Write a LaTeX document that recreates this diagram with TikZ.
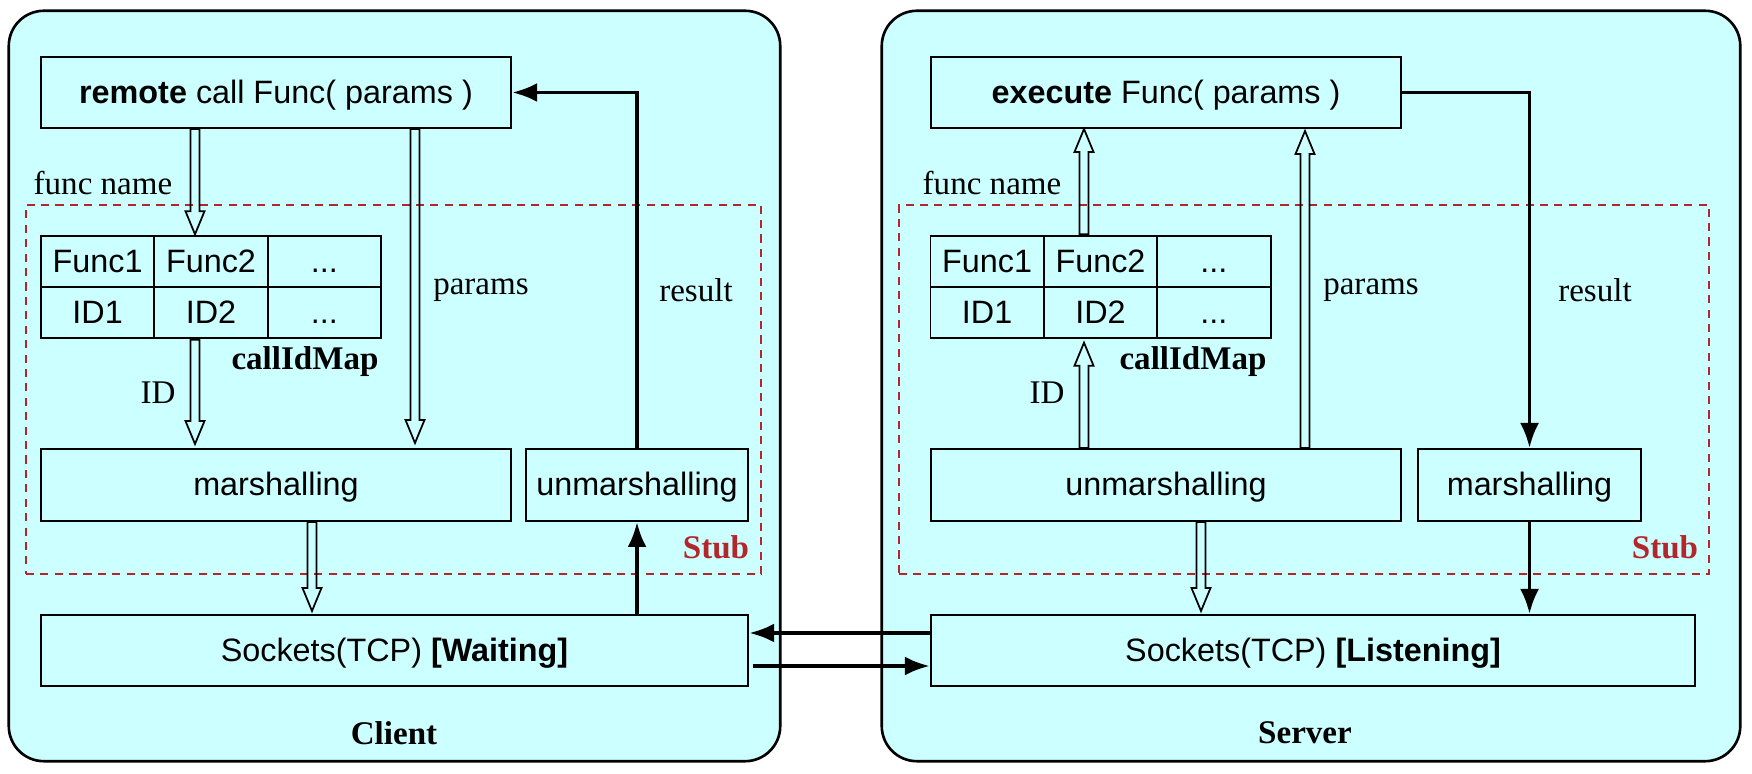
\documentclass[tikz,border=0pt]{standalone}
\usepackage{fontspec}
\setmainfont{Liberation Serif}
\setsansfont{Liberation Sans}
\usepackage{tikz}
\usetikzlibrary{arrows.meta, positioning, calc, matrix}
\definecolor{rpcbg}{HTML}{CCFFFF}
\definecolor{stubred}{HTML}{B3262B}
\newcommand{\boxfont}{\sffamily\fontsize{9.2}{11}\selectfont}
\newcommand{\labfont}{\rmfamily\fontsize{9.4}{11}\selectfont}
% open (outlined) arrow between two points, optional gap before the tip
\newcommand{\fatarrow}[3][0pt]{%
  \coordinate (fatS) at (#2);
  \coordinate (fatT0) at (#3);
  \coordinate (fatT) at ($(fatT0)!#1!(fatS)$);
  \coordinate (fatH) at ($(fatT)!0.23cm!(fatS)$);
  \draw[hollow] ($(fatS)!0.045cm!90:(fatT)$) -- ($(fatH)!0.045cm!-90:(fatS)$)
    -- ($(fatH)!0.095cm!-90:(fatS)$) -- (fatT) -- ($(fatH)!0.095cm!90:(fatS)$)
    -- ($(fatH)!0.045cm!90:(fatS)$) -- ($(fatS)!0.045cm!-90:(fatT)$) -- cycle;
}
\tikzset{
  >=Latex,
  side/.style={draw, fill=rpcbg, line width=0.75pt, rounded corners=10pt},
  fbox/.style={draw, line width=0.55pt, inner sep=0pt, font=\boxfont, minimum height=0.71cm,
    text height=0.72em, text depth=0.1em},
  stubbox/.style={draw=stubred, line width=0.6pt, dash pattern=on 2.3pt off 1.8pt},
  idtable/.style={
    matrix of nodes, inner sep=0pt, column sep=-0.55pt, row sep=-0.55pt,
    nodes={draw, line width=0.55pt, inner sep=0pt, anchor=center,
      text height=0.72em, text depth=0.1em,
      minimum width=1.133cm, minimum height=0.51cm, font=\boxfont}
  },
  lab/.style={font=\labfont, inner sep=0pt},
  blab/.style={font=\labfont\bfseries, inner sep=0pt, text=#1},
  blab/.default=black,
  flow/.style={-{Latex[length=2.5mm, width=1.9mm]}, line width=1.1pt},
  hollow/.style={draw, line width=0.5pt, line join=miter}
}

\begin{document}
\begin{tikzpicture}[x=0.01cm, y=-0.01cm]
  \useasboundingbox (0,0) rectangle (1752,774);

  % client
  \node[side, minimum width=7.71cm, minimum height=7.5cm] (client) at (394.5,386) {};
  \node[stubbox, minimum width=7.35cm, minimum height=3.69cm] (stubL) at (393.5,389.5) {};
  \node[fbox, minimum width=4.7cm] (callL) at (276,92.5) {\textbf{remote} call Func( params )};
  \matrix[idtable] (tabL) at (211,287) {Func1 & Func2 & ... \\ ID1 & ID2 & ... \\};
  \node[fbox, minimum width=4.7cm, minimum height=0.72cm] (marshL) at (276,485) {marshalling};
  \node[fbox, minimum width=2.22cm, minimum height=0.72cm] (unmarshL) at (637,485) {unmarshalling};
  \node[fbox, minimum width=7.07cm] (sockL) at (394.5,650.5) {Sockets(TCP) \textbf{[Waiting]}};

  \node[lab] (fnameL) at (103,183) {func name};
  \node[lab] (paramsL) at (481,290) {params};
  \node[lab] (resultL) at (696,290) {result};
  \node[lab] (idL) at (158,393) {ID};
  \node[blab] (mapL) at (305,362) {callIdMap};
  \node[blab=stubred] (stubtxtL) at (716,547) {Stub};
  \node[blab] (clientlbl) at (394,733) {Client};

  \coordinate (colA) at (195,0);
  \coordinate (colB) at (415,0);
  \coordinate (colC) at (312,0);
  \fatarrow{callL.south -| colA}{tabL.north -| colA}
  \fatarrow[0.04cm]{tabL.south -| colA}{marshL.north -| colA}
  \fatarrow[0.05cm]{callL.south -| colB}{marshL.north -| colB}
  \fatarrow[0.03cm]{marshL.south -| colC}{sockL.north -| colC}
  \draw[flow] (sockL.north -| unmarshL.south) -- (unmarshL.south);
  \draw[flow] (unmarshL.north) |- (callL.east);

  % server
  \node[side, minimum width=8.58cm, minimum height=7.5cm] (server) at (1311,386) {};
  \node[stubbox, minimum width=8.1cm, minimum height=3.69cm] (stubR) at (1304,389.5) {};
  \node[fbox, minimum width=4.7cm] (execR) at (1166,92.5) {\textbf{execute} Func( params )};
  \matrix[idtable] (tabR) at (1100.5,287) {Func1 & Func2 & ... \\ ID1 & ID2 & ... \\};
  \node[fbox, minimum width=4.7cm, minimum height=0.72cm] (unmarshR) at (1166,485) {unmarshalling};
  \node[fbox, minimum width=2.23cm, minimum height=0.72cm] (marshR) at (1529.5,485) {marshalling};
  \node[fbox, minimum width=7.64cm] (sockR) at (1313,650.5) {Sockets(TCP) \textbf{[Listening]}};

  \node[lab] (fnameR) at (992,183) {func name};
  \node[lab] (paramsR) at (1371,290) {params};
  \node[lab] (resultR) at (1595,290) {result};
  \node[lab] (idR) at (1047,393) {ID};
  \node[blab] (mapR) at (1193,362) {callIdMap};
  \node[blab=stubred] (stubtxtR) at (1665,547) {Stub};
  \node[blab] (serverlbl) at (1305,733) {Server};

  \coordinate (colE) at (1084,0);
  \coordinate (colF) at (1305,0);
  \coordinate (colG) at (1201,0);
  \fatarrow{tabR.north -| colE}{execR.south -| colE}
  \fatarrow[0.03cm]{unmarshR.north -| colE}{tabR.south -| colE}
  \fatarrow[0.02cm]{unmarshR.north -| colF}{execR.south -| colF}
  \fatarrow[0.03cm]{unmarshR.south -| colG}{sockR.north -| colG}
  \draw[flow] (execR.east) -| (marshR.north);
  \draw[flow] (marshR.south) -- (marshR.south |- sockR.north);

  % socket link
  \draw[flow] ([yshift=0.175cm]sockR.west) -- ([yshift=0.175cm]sockL.east);
  \draw[flow, shorten <=1pt] ([yshift=-0.155cm]sockL.east) -- ([yshift=-0.155cm]sockR.west);
\end{tikzpicture}
\end{document}
